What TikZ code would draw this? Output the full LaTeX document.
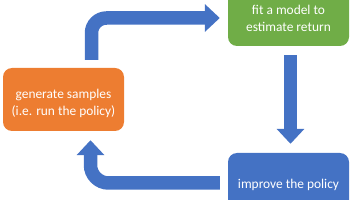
\documentclass[tikz,border=0pt]{standalone}
\usepackage{fontspec}
\setsansfont{Carlito}
\usetikzlibrary{positioning, arrows.meta, calc}

\begin{document}
\begin{tikzpicture}[x=1pt, y=-1pt, font=\sffamily,
    stepbox/.style={rounded corners=9pt, minimum width=121pt, minimum height=63pt,
        align=center, text=white, font=\sffamily\fontsize{13.4}{16.5}\selectfont},
    blockarrow/.style={draw=loopblue, line width=13.5pt,
        -{Triangle[width=27pt, length=15pt]}}]

    % Define colors (Office palette)
    \definecolor{sampleorange}{HTML}{ED7D31}
    \definecolor{fitgreen}{HTML}{70AD47}
    \definecolor{loopblue}{HTML}{4472C4}

    \useasboundingbox (0,0) rectangle (356,200);
    \clip (0,0) rectangle (356,200);

    % ===== BOXES =====
    \node[stepbox, fill=sampleorange] (sample) at (63.5, 99.5)
        {\rule{0pt}{17pt}generate samples\\(i.e. run the policy)};
    \node[stepbox, fill=fitgreen] (fit) at (288.5, 14.5)
        {\rule{0pt}{17pt}fit a model to\\estimate return};
    \node[stepbox, fill=loopblue] (improve) at (288.5, 184.5)
        {improve the policy};

    % ===== LOOP ARROWS =====
    % 1. samples -> model
    \draw[blockarrow, rounded corners=15pt]
        ($(sample.north)+(28,-8)$) |- ($(fit.west)+(-8,3.5)$);
    % 2. model -> policy
    \draw[blockarrow] ($(fit.south)+(2,9)$) -- ($(improve.north)+(2,-9)$);
    % 3. policy -> samples
    \draw[blockarrow, rounded corners=18pt]
        ($(improve.west)+(-8,-1.5)$) -| ($(sample.south)+(27,9)$);

\end{tikzpicture}
\end{document}
